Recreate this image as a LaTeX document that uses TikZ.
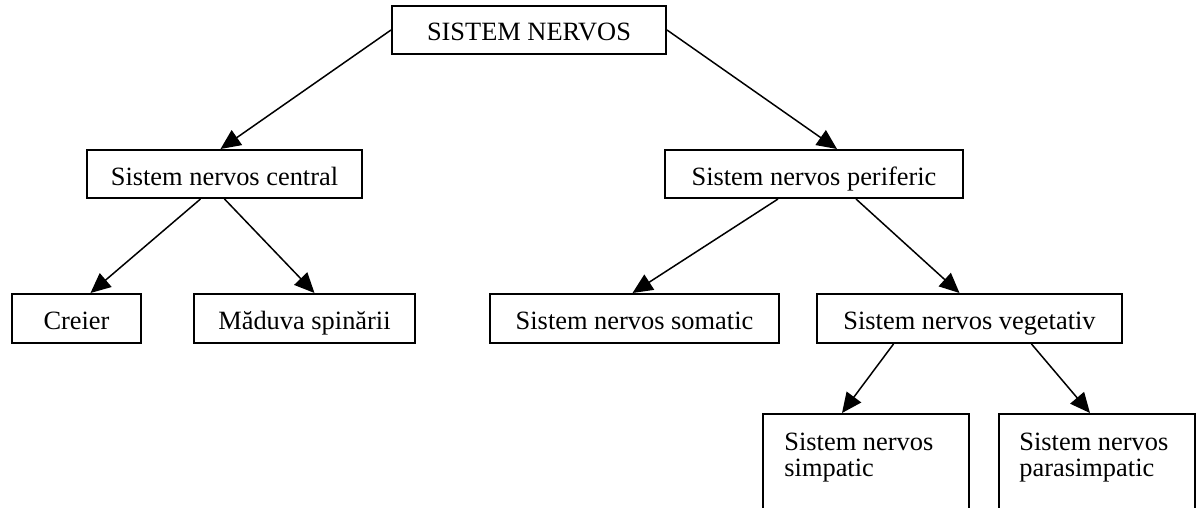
\documentclass[tikz,border=0pt]{standalone}
\usepackage{fontspec}
\setmainfont{Liberation Serif}
\usetikzlibrary{arrows.meta,positioning}
\begin{document}
\begin{tikzpicture}[x = 0.5pt, y = -0.5pt]
	\tikzstyle{every node} = [inner sep = 0pt, font = \fontsize{13.2}{13}\selectfont]
	\tikzstyle{nbox} = [rectangle, draw = black, line width = 1pt, minimum height = 24pt, text height = 12pt, text depth = 1pt]
	\tikzstyle{arr} = [line width = 0.75pt, -{Triangle[length = 10pt, width = 9pt]}]
\useasboundingbox (0,0) rectangle (1198,508);
\clip (0,0) rectangle (1198,508);
\node[nbox, minimum width = 137pt] (sn) at (529, 30) {SISTEM NERVOS};
\node[nbox, minimum width = 137.5pt] (snc) at (224.5, 174) {Sistem nervos central};
\node[nbox, minimum width = 149pt] (snp) at (814, 174) {Sistem nervos periferic};
\node[nbox, minimum width = 64.5pt, minimum height = 24.5pt] (cr) at (76.5, 318.5) {Creier};
\node[nbox, minimum width = 110.5pt, minimum height = 24.5pt] (ms) at (304.5, 318.5) {Măduva spinării};
\node[nbox, minimum width = 144.5pt, minimum height = 24.5pt] (som) at (634.5, 318.5) {Sistem nervos somatic};
\node[nbox, minimum width = 152.5pt, minimum height = 24.5pt] (veg) at (969.5, 318.5) {Sistem nervos vegetativ};
\node[nbox, minimum width = 103pt, minimum height = 65pt] (simp) at (866, 479) {};
\node[nbox, minimum width = 98pt, minimum height = 65pt] (psimp) at (1097, 479) {};
	\path[draw, arr] (sn.west) -- ([xshift = -2pt]snc.north);
	\path[draw, arr] (sn.east) -- ([xshift = 11.5pt]snp.north);
	\path[draw, arr] ([xshift = -12pt]snc.south) -- ([xshift = 7pt]cr.north);
	\path[draw, arr] (snc.south) -- ([xshift = 5pt]ms.north);
	\path[draw, arr] ([xshift = -18pt]snp.south) -- ([xshift = -1pt]som.north);
	\path[draw, arr] ([xshift = 21pt]snp.south) -- ([xshift = -5pt]veg.north);
	\path[draw, arr] ([xshift = -38pt]veg.south) -- ([xshift = -12pt]simp.north);
	\path[draw, arr] ([xshift = 31pt]veg.south) -- ([xshift = -3.5pt]psimp.north);
\node[anchor = north west, align = left] at ([shift = {(11pt, -10pt)}]simp.north west) {Sistem nervos\\simpatic};
\node[anchor = north west, align = left] at ([shift = {(10.5pt, -10pt)}]psimp.north west) {Sistem nervos\\parasimpatic};
	\end{tikzpicture}
\end{document}
